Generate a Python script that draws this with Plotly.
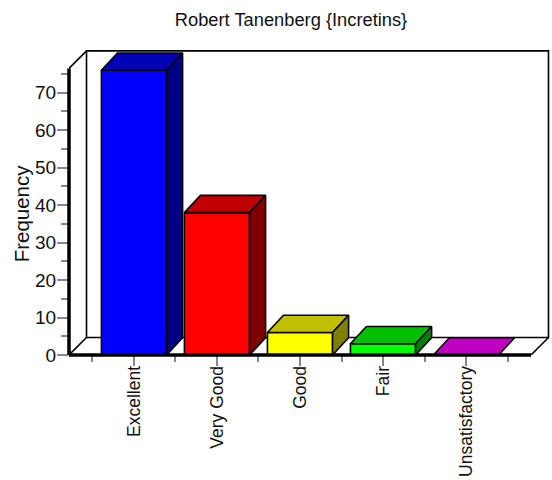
import plotly.graph_objects as go

categories = ["Excellent", "Very Good", "Good", "Fair", "Unsatisfactory"]
values = [76, 38, 6, 3, 0]
front_colors = ["#0000FF", "#FF0000", "#FFFF00", "#00FF00", "#FF00FF"]
top_colors = ["#0000B8", "#C00000", "#C0C000", "#00C000", "#C000C0"]
side_colors = ["#000080", "#800000", "#808000", "#008000", "#800080"]
y_major = [0, 10, 20, 30, 40, 50, 60, 70]
y_minor = [5, 15, 25, 35, 45, 55, 65, 75]

FONT = "Liberation Sans"
INK = "#111111"
BAR_W = 0.785
DX = 0.211   # wall depth in x units
DY = 4.67    # wall depth in y units
BAR_DX = 0.193
BAR_DY = 4.6
X0, X1 = -0.783, 4.783
Y1 = 76.5
XMAX = (552 - 134) / 83
YMAX = (355.3 - 48) / 3.75
positions = list(range(len(categories)))

fig = go.Figure()

# back wall and floor
wall_line = dict(color="black", width=1.6)
fig.add_shape(type="rect", layer="below", x0=X0 + DX, x1=X1 + DX, y0=DY, y1=Y1 + DY,
              line=wall_line, fillcolor="white")
for (xa, ya, xb, yb) in [(X0, Y1, X0 + DX, Y1 + DY), (X0, 0, X0 + DX, DY), (X1, 0, X1 + DX, DY)]:
    fig.add_shape(type="line", layer="below", x0=xa, y0=ya, x1=xb, y1=yb, line=wall_line)

# front faces
fig.add_trace(go.Bar(x=positions, y=values, width=BAR_W,
                     marker=dict(color=front_colors, line=dict(color="black", width=1.6)),
                     hoverinfo="skip"))

# top and side faces
for i, v in zip(positions, values):
    l, r = i - BAR_W / 2, i + BAR_W / 2
    fig.add_trace(go.Scatter(x=[l, r, r + BAR_DX, l + BAR_DX, l], y=[v, v, v + BAR_DY, v + BAR_DY, v],
                             mode="lines", fill="toself", fillcolor=top_colors[i],
                             line=dict(color="black", width=1.6), hoverinfo="skip"))
    if v > 0:
        fig.add_trace(go.Scatter(x=[r, r + BAR_DX, r + BAR_DX, r, r], y=[0, BAR_DY, v + BAR_DY, v, 0],
                                 mode="lines", fill="toself", fillcolor=side_colors[i],
                                 line=dict(color="black", width=1.6), hoverinfo="skip"))

# heavy front axes (paper-referenced so that they are not clipped at the plot edge)
heavy = dict(color="black", width=3.5)
fig.add_shape(type="line", xref="paper", yref="paper", x0=0, y0=0, x1=0, y1=Y1 / YMAX, line=heavy)
fig.add_shape(type="line", xref="paper", yref="paper", x0=0, y0=0,
              x1=(X1 - X0) / (XMAX - X0), y1=0, line=heavy)

fig.update_layout(
    width=552, height=480, autosize=False, showlegend=False,
    margin=dict(l=69, r=0, t=48, b=124.7, pad=0, autoexpand=False),
    plot_bgcolor="white", paper_bgcolor="white",
    font=dict(family=FONT, size=18, color=INK),
    title=dict(text="Robert Tanenberg {Incretins}", x=291 / 552, xanchor="center",
               y=1 - 20 / 480, yanchor="middle", font=dict(family=FONT, size=18.3, color=INK)),
    annotations=[dict(text="Frequency", textangle=-90, xref="paper", yref="paper",
                      x=-48 / 483, y=(355.3 - 213.5) / 307.3, showarrow=False,
                      xanchor="center", yanchor="middle", font=dict(family=FONT, size=20.5, color=INK))],
    xaxis=dict(range=[X0, XMAX], tickmode="array", tickvals=positions, ticktext=categories,
               tickangle=-90, ticks="outside", ticklen=10, tickcolor="#888888", tickwidth=1.5,
               ticklabelstandoff=-7, automargin=False,
               showgrid=False, zeroline=False, showline=False,
               tickfont=dict(family=FONT, size=17.5, color=INK),
               minor=dict(tickmode="array", tickvals=[p - 0.5 for p in positions] + [positions[-1] + 0.5],
                          ticks="outside", ticklen=6, tickcolor="#888888", tickwidth=1.5, showgrid=False)),
    yaxis=dict(range=[0, YMAX], tickmode="array", tickvals=y_major,
               ticks="outside", ticklen=11, tickcolor="#888888", tickwidth=1.5,
               ticklabelstandoff=-3, automargin=False,
               showgrid=False, zeroline=False, showline=False,
               tickfont=dict(family=FONT, size=19, color=INK),
               minor=dict(tickmode="array", tickvals=y_minor,
                          ticks="outside", ticklen=7, tickcolor="#888888", tickwidth=1.5, showgrid=False)),
)

fig.write_html("out.html", config={"displayModeBar": False},
               post_script="document.body.style.margin='0';")
